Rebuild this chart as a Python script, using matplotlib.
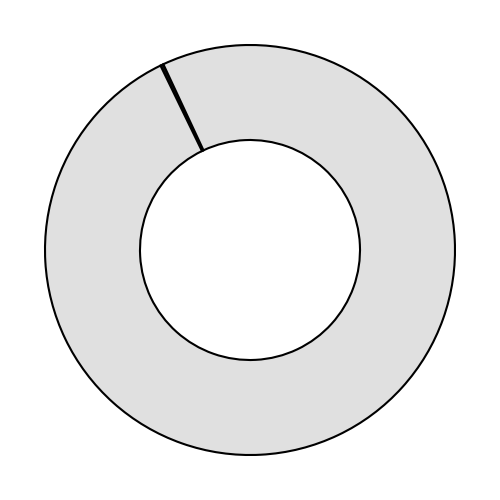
import matplotlib.pyplot as plt

# slice values (share of total)
labels = ['minor', 'major']
values = [0.25, 99.75]
colors = ['#111111', '#e0e0e0']

fig = plt.figure(figsize=(5, 5), dpi=100)
ax = fig.add_axes([0, 0, 1, 1])

ax.pie(values, colors=colors, startangle=115, counterclock=True,
       radius=1.0,
       wedgeprops=dict(width=1.0 - 110 / 205, edgecolor='black', linewidth=1.5))

lim = 250 / 205
ax.set_xlim(-lim, lim)
ax.set_ylim(-lim, lim)
ax.set_aspect('equal')
ax.axis('off')

fig.savefig('out.png', dpi=100, facecolor='white')
